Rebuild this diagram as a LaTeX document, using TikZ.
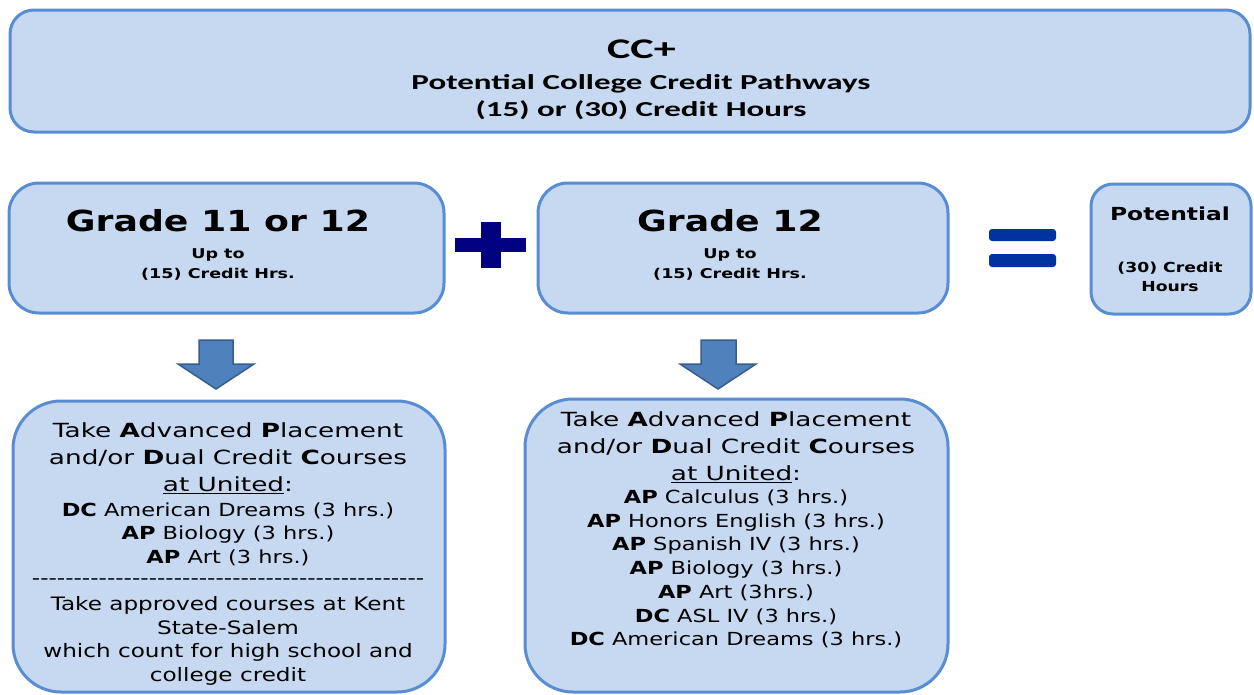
\documentclass[tikz,border=0pt]{standalone}
\usepackage{fontspec}
\setmainfont{DejaVu Sans}[FakeStretch=1.25]
\newfontfamily\hdrfont{DejaVu Sans}[FakeStretch=1.35]
\newfontfamily\smallfont{DejaVu Sans}[FakeStretch=1.3]
\newfontfamily\titlefont{Carlito}[FakeStretch=1.55]
\definecolor{boxfill}{RGB}{198,217,241}
\definecolor{boxline}{RGB}{88,141,212}
\definecolor{arrfill}{RGB}{79,129,189}
\definecolor{arrline}{RGB}{56,93,138}
\definecolor{plusc}{RGB}{0,0,128}
\definecolor{eqc}{RGB}{0,51,160}
\ExplSyntaxOn
\newcommand\hyrow[1]{\prg_replicate:nn{#1}{-\kern0pt}}
\ExplSyntaxOff
\tikzset{
  pbox/.style={draw=boxline, fill=boxfill, line width=3pt, rounded corners=#1},
  pbox/.default=28pt,
  txt/.style={inner sep=0pt, align=center, text=black},
  blockarrow/.style={fill=arrfill, draw=arrline, line width=1.5pt, line join=miter},
}
\begin{document}
\begin{tikzpicture}[x=1pt,y=-1pt]
\useasboundingbox (0,0) rectangle (1254,694);
\clip (0,0) rectangle (1254,694);
% top box
\draw[pbox=24pt] (10,10) rectangle (1250,132);
\node[txt, anchor=base, font=\titlefont\bfseries\fontsize{28.5}{30}\selectfont] (cc) at (641.5,58.3) {CC+};
\node[txt, anchor=base, font=\titlefont\bfseries\fontsize{21.3}{26}\selectfont] (pcc) at (641,89.3) {Potential College Credit Pathways};
\node[txt, anchor=base, font=\titlefont\bfseries\fontsize{21.3}{26}\selectfont] (hrs) at (641,116) {(15) or (30) Credit Hours};
% grade boxes
\draw[pbox=30pt] (9,183) rectangle (444,313);
\node[txt, font=\bfseries\fontsize{29}{30}\selectfont] (g1) at (218,221) {Grade 11 or 12};
\node[txt, font=\smallfont\bfseries\fontsize{13.5}{20}\selectfont] (g1s) at (218,264) {Up to\\(15) Credit Hrs.};
\draw[pbox=30pt] (538,183) rectangle (948,313);
\node[txt, font=\bfseries\fontsize{29}{30}\selectfont] (g2) at (730,221) {Grade 12};
\node[txt, font=\smallfont\bfseries\fontsize{13.5}{20}\selectfont] (g2s) at (730,264) {Up to\\(15) Credit Hrs.};
\draw[pbox=22pt] (1091,184) rectangle (1251,314);
\node[txt, font=\smallfont\bfseries\fontsize{18}{20}\selectfont] (pot) at (1170,214) {Potential};
\node[txt, font=\bfseries\fontsize{13.8}{19}\selectfont] (pots) at (1170,277) {(30) Credit\\Hours};
% plus
\fill[plusc] (481,222) rectangle (501,268);
\fill[plusc] (455,238) rectangle (526,252);
% equals
\fill[eqc, rounded corners=3pt] (989,229) rectangle (1056,241);
\fill[eqc, rounded corners=3pt] (989,254) rectangle (1056,267);
% arrows
\draw[blockarrow] (199,340) -- (233,340) -- (233,364) -- (254,364) -- (216,389) -- (178,364) -- (199,364) -- cycle;
\draw[blockarrow] (701,340) -- (736,340) -- (736,364) -- (756,364) -- (718,389) -- (680,364) -- (701,364) -- cycle;
% bottom boxes
\draw[pbox=48pt] (13,401) rectangle (445,692);
\draw[pbox=48pt] (525,399) rectangle (948,692);
\node[txt, font=\hdrfont\fontsize{19.5}{27}\selectfont] (b1h) at (228,458) {Take \textbf{A}dvanced \textbf{P}lacement\\and/or \textbf{D}ual Credit \textbf{C}ourses\\\underline{at United}:};
\node[txt, font=\fontsize{18}{23.5}\selectfont] (b1l) at (228,534) {\textbf{DC} American Dreams (3 hrs.)\\\textbf{AP} Biology (3 hrs.)\\\textbf{AP} Art (3 hrs.)};
\node[txt, font=\fontsize{18.5}{23.5}\selectfont] (b1d) at (228,582) {\hyrow{47}};
\node[txt, font=\fontsize{18.5}{23.5}\selectfont] (b1k) at (228,641) {Take approved courses at Kent\\State-Salem\\which count for high school and\\college credit};
\node[txt, font=\hdrfont\fontsize{19.5}{27}\selectfont] (b2h) at (736,447) {Take \textbf{A}dvanced \textbf{P}lacement\\and/or \textbf{D}ual Credit \textbf{C}ourses\\\underline{at United}:};
\node[txt, font=\fontsize{18}{23.7}\selectfont] (b2l) at (736,569) {\textbf{AP} Calculus (3 hrs.)\\\textbf{AP} Honors English (3 hrs.)\\\textbf{AP} Spanish IV (3 hrs.)\\\textbf{AP} Biology (3 hrs.)\\\textbf{AP} Art (3hrs.)\\\textbf{DC} ASL IV (3 hrs.)\\\textbf{DC} American Dreams (3 hrs.)};
\end{tikzpicture}
\end{document}
